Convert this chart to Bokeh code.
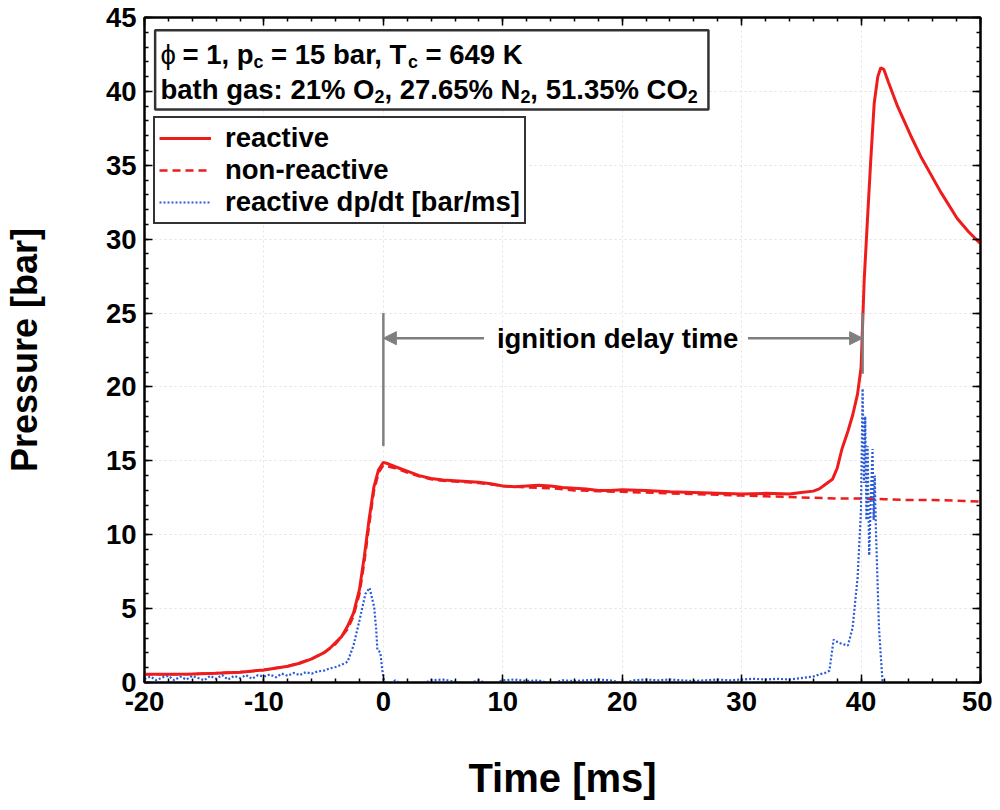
from bokeh.plotting import figure
from bokeh.models import (LinearAxis, FixedTicker, Range1d, Legend, LegendItem,
                          Arrow, NormalHead, CustomJSTickFormatter)
from bokeh.core.properties import value
from bokeh.embed import file_html
from bokeh.resources import INLINE

# ---------------- data ----------------
t_reactive = [-20, -18, -16, -14, -12, -10, -8, -7, -6, -5, -4.5, -4, -3.5, -3, -2.5, -2,
              -1.6, -1.2, -0.8, -0.4, 0, 0.4, 1, 2, 3, 4, 5, 6, 7, 8, 9, 10, 11, 12, 13, 14,
              15, 16, 17, 18, 19, 20, 22, 24, 26, 28, 30, 32, 34, 35, 36, 36.5, 37, 37.6,
              38.0, 38.4, 38.9, 39.3, 39.7, 40.0, 40.26, 40.5, 40.8, 41.1, 41.4, 41.65,
              41.9, 42.3, 43.05, 44.16, 45.0, 46.66, 48.05, 49.0, 50]
p_reactive = [0.55, 0.55, 0.57, 0.62, 0.7, 0.85, 1.1, 1.3, 1.6, 2.0, 2.3, 2.7, 3.1, 3.8, 4.7, 6.3,
              8.5, 11.0, 13.2, 14.4, 14.9, 14.8, 14.6, 14.3, 14.0, 13.8, 13.7, 13.65, 13.6, 13.55,
              13.45, 13.3, 13.25, 13.3, 13.35, 13.3, 13.2, 13.15, 13.1, 13.0, 13.0, 13.05, 13.0,
              12.9, 12.85, 12.8, 12.75, 12.8, 12.75, 12.85, 12.95, 13.1, 13.4, 13.75,
              14.5, 15.8, 17.0, 18.1, 19.5, 21.3, 27.2, 30.8, 35.2, 39.2, 41.0, 41.6,
              41.5, 40.6, 39.0, 37.0, 35.6, 33.2, 31.4, 30.5, 29.7]

t_nonreactive = [-20, -16, -12, -10, -8, -6, -5, -4, -3, -2.5, -2, -1.6, -1.2, -0.8, -0.4, 0,
                 1, 2, 3, 4, 5, 6, 8, 10, 12, 14, 16, 18, 20, 22, 24, 26, 28, 30, 32, 34, 36,
                 38, 40, 42, 44, 46, 48, 50]
p_nonreactive = [0.55, 0.57, 0.7, 0.85, 1.1, 1.6, 2.0, 2.6, 3.6, 4.5, 6.0, 8.1, 10.6, 12.9, 14.2, 14.7,
                 14.5, 14.2, 13.95, 13.75, 13.65, 13.6, 13.5, 13.3, 13.2, 13.15, 13.0, 12.95,
                 12.9, 12.85, 12.8, 12.75, 12.7, 12.65, 12.6, 12.55, 12.5, 12.45, 12.45, 12.4,
                 12.35, 12.35, 12.3, 12.25]

t_dpdt = [-20, -19.5, -19, -18.5, -18, -17.5, -17, -16.5, -16, -15.5, -15, -14.5, -14, -13.5,
          -13, -12.5, -12, -11.5, -11, -10.5, -10, -9.5, -9, -8.5, -8, -7.5, -7, -6.5, -6,
          -5.5, -5, -4.5, -4, -3.5, -3, -2.5, -2, -1.5, -1.15, -0.77, -0.6, -0.5, -0.35,
          -0.25, -0.1, 0.05, 0.5, 1, 1.5, 2, 3, 4, 5, 6, 7, 8, 9, 10, 11, 12, 13, 14, 15, 16,
          17, 18, 19, 20, 21, 22, 23, 24, 25, 26, 27, 28, 29, 30, 31, 32, 33, 34, 35, 36,
          36.5, 37.0, 37.35, 37.7, 38.1, 38.46, 38.9, 39.29, 39.71, 39.99, 40.13, 40.25,
          40.35, 40.45, 40.55, 40.68, 40.8, 40.96, 41.05, 41.15, 41.24, 41.5, 41.8, 42.2,
          43, 44, 46, 48, 50]
dpdt = [0.25, 0.4, 0.15, 0.35, 0.45, 0.15, 0.4, 0.2, 0.45, 0.3, 0.15, 0.45, 0.25, 0.5,
        0.2, 0.45, 0.3, 0.5, 0.25, 0.5, 0.4, 0.55, 0.35, 0.6, 0.45, 0.65, 0.5, 0.7, 0.6,
        0.75, 0.8, 0.95, 1.05, 1.2, 1.4, 2.5, 4.2, 6.0, 6.4, 5.1, 3.6, 2.2, 2.1,
        2.0, 0.9, 0.1, -0.2, 0.15, -0.1, -0.3, -0.2, 0.15, 0.2, 0.05, -0.1, 0.15, -0.2, 0.15,
        0.2, 0.1, 0.15, -0.1, 0.15, 0.1, 0.15, 0.2, 0.15, -0.05, 0.15, 0.2, 0.15, 0.2,
        0.15, 0.1, 0.15, 0.2, 0.15, 0.2, 0.25, 0.2, 0.25, 0.2, 0.3, 0.4,
        0.55, 0.65, 0.8, 2.9, 2.7, 2.6, 2.5, 3.7, 7.1, 11.6, 19.9, 13.5,
        18.0, 11.0, 16.0, 8.6, 12.0, 15.8, 11.0, 14.0, 10.4, 3.7, 0.0, -0.8,
        -1.2, -1.0, -0.8, -0.7, -0.6]

x_ticks = [-20, -10, 0, 10, 20, 30, 40, 50]
x_minor = list(range(-20, 51, 2))
y_ticks = [0, 5, 10, 15, 20, 25, 30, 35, 40, 45]
y_minor = list(range(0, 46, 1))

series_labels = ["reactive", "non-reactive", "reactive dp/dt [bar/ms]"]

idt_start, idt_end = 0.0, 40.13         # ignition delay markers [ms]
idt_marker_bottom = [16.0, 20.9]         # [bar]
idt_marker_top = 25.0
idt_arrow_y = 23.3
idt_text = "ignition delay time"

cond_line1 = [("ϕ", "sym"), (" = 1, p", "main"), ("c", "sub"), (" = 15 bar, T", "main"),
              ("c", "sub"), (" = 649 K", "main")]
cond_line2 = [("bath gas: 21% O", "main"), ("2", "sub"), (", 27.65% N", "main"), ("2", "sub"),
              (", 51.35% CO", "main"), ("2", "sub")]

# ---------------- styling ----------------
FONT = "Liberation Sans"
FS = 27.5
SUB = FS * 0.65
RED = "#ee1c1c"
BLUE = "#2a5bd7"
GREY = "#7f7f7f"

p = figure(width=992, height=802, x_range=Range1d(-20, 50), y_range=Range1d(0, 45),
           output_backend="svg", toolbar_location=None,
           min_border_left=141, min_border_right=12, min_border_top=17, min_border_bottom=112,
           x_axis_label="Time [ms]", y_axis_label="Pressure [bar]")
p.background_fill_color = "white"
p.border_fill_color = "white"
p.outline_line_color = "black"
p.outline_line_width = 2

def style_axis(ax, ticks, minor, show_labels):
    ax.ticker = FixedTicker(ticks=ticks, minor_ticks=minor)
    ax.axis_line_color = "black"
    ax.axis_line_width = 2
    ax.major_tick_in = 8
    ax.major_tick_out = 0
    ax.minor_tick_in = 4
    ax.minor_tick_out = 0
    ax.major_tick_line_color = "black"
    ax.major_tick_line_width = 1.5
    ax.minor_tick_line_color = "black"
    ax.minor_tick_line_width = 1.5
    if show_labels:
        ax.formatter = CustomJSTickFormatter(code="return tick.toString()")
        ax.major_label_text_font = FONT
        ax.major_label_text_font_style = "bold"
        ax.major_label_text_font_size = f"{FS}px"
        ax.major_label_text_color = "black"
        ax.major_label_standoff = 9
        ax.axis_label_text_font = FONT
        ax.axis_label_text_font_style = "bold"
        ax.axis_label_text_color = "black"
    else:
        ax.formatter = CustomJSTickFormatter(code="return ''")
        ax.major_label_text_font_size = "0px"
        ax.major_label_standoff = 0

style_axis(p.xaxis[0], x_ticks, x_minor, True)
style_axis(p.yaxis[0], y_ticks, y_minor, True)
p.yaxis[0].major_label_standoff = 8
p.xaxis[0].axis_label_text_font_size = "40px"
p.xaxis[0].axis_label_standoff = 42
p.yaxis[0].axis_label_text_font_size = "36px"
p.yaxis[0].axis_label_standoff = 58

top_ax = LinearAxis()
style_axis(top_ax, x_ticks, x_minor, False)
p.add_layout(top_ax, "above")
right_ax = LinearAxis()
style_axis(right_ax, y_ticks, y_minor, False)
p.add_layout(right_ax, "right")

for g in (p.xgrid, p.ygrid):
    g.grid_line_color = "#e2e2e2"
    g.grid_line_dash = "2 3"
    g.grid_line_width = 1

# ---------------- curves ----------------
r_react = p.line(t_reactive, p_reactive, line_color=RED, line_width=3)
r_non = p.line(t_nonreactive, p_nonreactive, line_color=RED, line_width=2.5, line_dash="8 5")
r_dp = p.line(t_dpdt, dpdt, line_color=BLUE, line_width=2.2, line_dash="2 2")

# ---------------- ignition delay annotation ----------------
p.segment(x0=[idt_start, idt_end], y0=idt_marker_bottom,
          x1=[idt_start, idt_end], y1=[idt_marker_top, idt_marker_top],
          line_color=GREY, line_width=2.5)
p.add_layout(Arrow(end=NormalHead(size=13, fill_color=GREY, line_color=GREY),
                   x_start=8.43, y_start=idt_arrow_y, x_end=idt_start, y_end=idt_arrow_y,
                   line_color=GREY, line_width=2.5))
p.add_layout(Arrow(end=NormalHead(size=13, fill_color=GREY, line_color=GREY),
                   x_start=30.53, y_start=idt_arrow_y, x_end=idt_end, y_end=idt_arrow_y,
                   line_color=GREY, line_width=2.5))
p.text(x=[(idt_start + idt_end) / 2 - 0.45], y=[idt_arrow_y], text=[idt_text],
       text_font=value(FONT), text_font_style="bold", text_font_size=f"{FS}px",
       text_align="center", text_baseline="middle", text_color="black")

# ---------------- condition box ----------------
p.quad(left=[-19.11], right=[27.22], top=[44.13], bottom=[38.78],
       fill_color="white", line_color="#333333", line_width=2.5)

W = {" ": 278, "%": 889, ",": 278, "-": 333, ".": 278, "/": 278, ":": 333, "=": 584,
     "[": 333, "]": 333, "C": 722, "K": 722, "N": 722, "O": 778, "T": 611,
     "a": 556, "b": 611, "c": 556, "g": 611, "h": 611, "p": 611, "r": 389, "s": 556,
     "t": 333, "ϕ": 520}
for d in "0123456789":
    W[d] = 556

def text_width(s, size):
    return sum(W.get(ch, 556) for ch in s) * size / 1000.0

def draw_pieces(pieces, x0, y0):
    off = 0.0
    for s, kind in pieces:
        size = SUB if kind == "sub" else FS
        stripped = s.lstrip(" ")
        off += text_width(s[:len(s) - len(stripped)], size)
        p.text(x=[x0], y=[y0], text=[stripped], x_offset=off,
               y_offset=(0 if kind == "sub" else -7),
               text_font=value(FONT), text_font_style=("normal" if kind == "sym" else "bold"),
               text_font_size=f"{size:.1f}px", text_align="left",
               text_baseline="alphabetic", text_color="black")
        off += text_width(stripped, size)

draw_pieces(cond_line1, -18.66, 41.99)
draw_pieces(cond_line2, -18.66, 39.65)

# ---------------- legend ----------------
legend = Legend(items=[LegendItem(label=series_labels[0], renderers=[r_react]),
                       LegendItem(label=series_labels[1], renderers=[r_non]),
                       LegendItem(label=series_labels[2], renderers=[r_dp])],
                location=(9, 458))
legend.label_text_font = FONT
legend.label_text_font_style = "bold"
legend.label_text_font_size = f"{FS}px"
legend.label_text_color = "black"
legend.glyph_width = 52
legend.glyph_height = 20
legend.label_standoff = 14
legend.spacing = 0
legend.padding = 4
legend.margin = 0
legend.border_line_color = "#333333"
legend.border_line_alpha = 1.0
legend.border_line_width = 2.5
legend.background_fill_color = "white"
legend.background_fill_alpha = 1.0
p.add_layout(legend)

open("out.html", "w").write(file_html(p, INLINE))
